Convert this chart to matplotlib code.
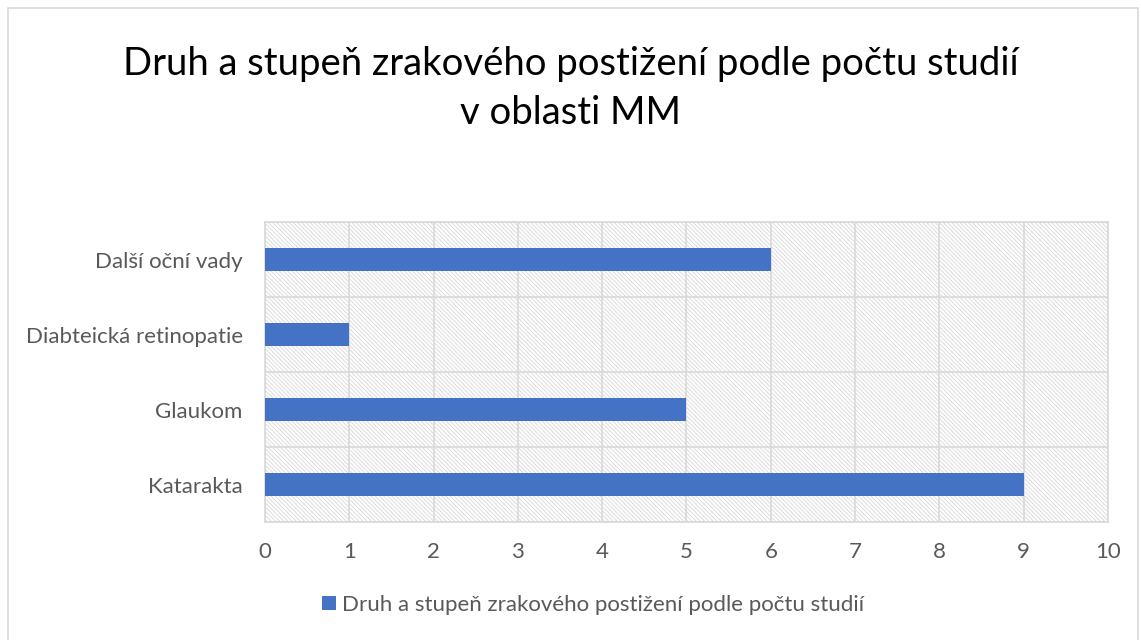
import matplotlib.pyplot as plt
from matplotlib.patches import Rectangle

plt.rcParams['font.family'] = ['Lato', 'DejaVu Sans']
plt.rcParams['hatch.color'] = '#dcdcdc'
plt.rcParams['hatch.linewidth'] = 0.7

categories = ['Katarakta', 'Glaukom', 'Diabteická retinopatie', 'Další oční vady']
values = [9, 5, 1, 6]
series_name = 'Druh a stupeň zrakového postižení podle počtu studií'
title = 'Druh a stupeň zrakového postižení podle počtu studií\nv oblasti MM'

fig = plt.figure(figsize=(11.41, 6.40), dpi=100)
ax = fig.add_axes([0.2323, 0.184, 0.7387, 0.469])

# hatched plot area background
ax.add_patch(Rectangle((0, 0), 1, 1, transform=ax.transAxes, facecolor='white',
                       hatch='\\' * 8, edgecolor='#dcdcdc', linewidth=0, zorder=0))

y = range(len(categories))
ax.barh(y, values, height=0.3, color='#4472c4', label=series_name, zorder=3)

ax.set_xlim(0, 10)
ax.set_ylim(-0.5, len(categories) - 0.5)
ax.set_xticks(range(0, 11))
ax.set_yticks(list(y))
ax.set_yticklabels(categories)
ax.set_yticks([i - 0.5 for i in range(len(categories) + 1)], minor=True)

ax.grid(axis='x', which='major', color='#d9d9d9', linewidth=1.2, zorder=1)
ax.grid(axis='y', which='minor', color='#d9d9d9', linewidth=1.2, zorder=1)
ax.set_axisbelow(True)
for s in ax.spines.values():
    s.set_color('#d9d9d9')
    s.set_linewidth(1.2)

ax.tick_params(axis='both', which='both', length=0, labelsize=16, colors='#595959')
ax.tick_params(axis='x', pad=14)
ax.tick_params(axis='y', pad=16)

fig.suptitle(title, fontsize=27.5, y=0.928, color='black', linespacing=1.45)

fig.legend(loc='lower center', bbox_to_anchor=(0.52, 0.008), frameon=False,
           fontsize=16, labelcolor='#595959', handlelength=0.6, handleheight=0.6,
           handletextpad=0.3)

# outer chart border
fig.add_artist(Rectangle((0.007, -0.01), 0.99, 0.997, transform=fig.transFigure,
                         fill=False, edgecolor='#d9d9d9', linewidth=1.2))

fig.savefig('out.png', dpi=100)
